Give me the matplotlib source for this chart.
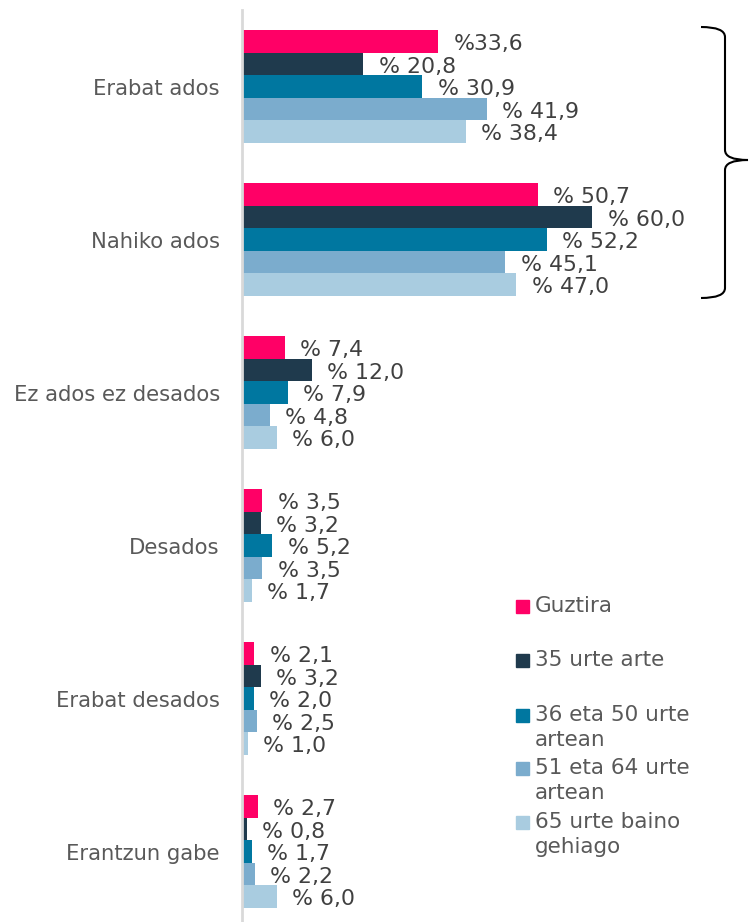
import numpy as np
import matplotlib
matplotlib.use("Agg")
import matplotlib.pyplot as plt
from matplotlib.path import Path
from matplotlib.patches import PathPatch, Rectangle

# data
categories = ["Erabat ados", "Nahiko ados", "Ez ados ez desados",
              "Desados", "Erabat desados", "Erantzun gabe"]
series = ["Guztira", "35 urte arte", "36 eta 50 urte\nartean",
          "51 eta 64 urte\nartean", "65 urte baino\ngehiago"]
guztira = [33.6, 50.7, 7.4, 3.5, 2.1, 2.7]
urte_35 = [20.8, 60.0, 12.0, 3.2, 3.2, 0.8]
urte_36_50 = [30.9, 52.2, 7.9, 5.2, 2.0, 1.7]
urte_51_64 = [41.9, 45.1, 4.8, 3.5, 2.5, 2.2]
urte_65 = [38.4, 47.0, 6.0, 1.7, 1.0, 6.0]
values = [guztira, urte_35, urte_36_50, urte_51_64, urte_65]
colors = ["#FF0066", "#1F3A4D", "#0077A0", "#7BACCD", "#A9CCE0"]

W, H = 750, 922
fig = plt.figure(figsize=(W / 100, H / 100), dpi=100)
ax = fig.add_axes([242 / W, 0, 467 / W, 912 / H])

y = np.arange(len(categories))
bh = 0.147
for k, (vals, c) in enumerate(zip(values, colors)):
    pos = y + (k - 2) * bh
    ax.barh(pos, vals, height=bh, color=c, zorder=2)
    for i, (p, v) in enumerate(zip(pos, vals)):
        num = f"{v:.1f}".replace(".", ",")
        txt = "%" + num if (k == 0 and i == 0) else "% " + num
        ax.annotate(txt, (v, p), xytext=(11, -2), textcoords="offset points",
                    va="center", ha="left", fontsize=15.8, color="#404040")

ax.set_xlim(0, 80)
ax.set_ylim(5.46, -0.5)
ax.set_yticks(y)
ax.set_yticklabels(categories, fontsize=15.2, color="#595959")
ax.tick_params(axis="y", length=0, pad=16)
ax.set_xticks([])
for s in ["top", "right", "bottom"]:
    ax.spines[s].set_visible(False)
ax.spines["left"].set_color("#D9D9D9")
ax.spines["left"].set_linewidth(2)

# legend
leg_y = [606, 660, 715, 768, 822]
for name, c, ly in zip(series, colors, leg_y):
    fig.patches.append(Rectangle((516 / W, 1 - (ly + 7) / H), 13 / W, 13 / H,
                                 transform=fig.transFigure, color=c))
    fig.text(535 / W, 1 - (ly - 10) / H, name, fontsize=15.5, color="#595959",
             va="top", ha="left", linespacing=1.3)

# brace
def px(x, yy):
    return (x / W, 1 - yy / H)

verts = [px(701, 27), px(725, 27), px(725, 37),
         px(725, 150),
         px(725, 160), px(748, 160),
         px(725, 160), px(725, 170),
         px(725, 288),
         px(725, 298), px(701, 298)]
codes = [Path.MOVETO, Path.CURVE3, Path.CURVE3,
         Path.LINETO,
         Path.CURVE3, Path.CURVE3,
         Path.CURVE3, Path.CURVE3,
         Path.LINETO,
         Path.CURVE3, Path.CURVE3]
fig.patches.append(PathPatch(Path(verts, codes), transform=fig.transFigure,
                             fill=False, lw=1.5, color="black"))

fig.savefig("out.png", dpi=100)
